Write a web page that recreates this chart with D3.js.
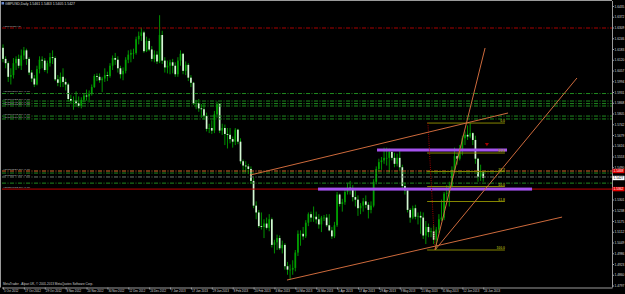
<!DOCTYPE html>
<html><head><meta charset="utf-8">
<script src="https://cdn.jsdelivr.net/npm/d3@7"></script>
<style>
body{margin:0;background:#000;overflow:hidden}
svg{display:block}
text{font-family:"Liberation Sans","DejaVu Sans",Arial,sans-serif}
</style>
</head><body>
<svg id="c" width="625" height="294"></svg>
<script>
// ---------- data ----------
const symbolTitle = "GBPUSD,Daily 1.5461 1.5463 1.5405 1.5427";
const footerText = "MetaTrader - Alpari UK, \u00a9 2001-2013 MetaQuotes Software Corp.";
const firstOpen = 1.6190;
const closes = [
1.6125,1.6100,1.6020,1.6030,1.6100,1.6125,1.6085,1.6145,1.6175,1.6125,
1.6045,1.6010,1.5975,1.6065,1.6120,1.6115,1.6060,1.6100,1.6135,1.6130,
1.6005,1.5985,1.6020,1.5990,1.5975,1.5890,1.5880,1.5880,1.5865,1.5850,
1.5885,1.5910,1.5905,1.5920,1.5960,1.6025,1.6020,1.6000,1.6010,1.6030,
1.6025,1.6085,1.6130,1.6120,1.6070,1.6035,1.6055,1.6120,1.6150,1.6160,
1.6160,1.6240,1.6260,1.6280,1.6170,1.6230,1.6180,1.6125,1.6150,1.6110,
1.6265,1.6115,1.6075,1.6085,1.6105,1.6085,1.6035,1.6115,1.6155,1.6055,
1.6090,1.6015,1.5985,1.5865,1.5865,1.5835,1.5830,1.5790,1.5715,1.5720,
1.5705,1.5800,1.5860,1.5705,1.5720,1.5685,1.5680,1.5655,1.5640,1.5710,
1.5640,1.5525,1.5500,1.5495,1.5480,1.5410,1.5265,1.5225,1.5145,1.5140,
1.5160,1.5135,1.5185,1.5035,1.5050,1.5075,1.5015,1.5035,1.4910,1.4890,
1.4890,1.4900,1.4990,1.5100,1.5100,1.5085,1.5165,1.5215,1.5195,1.5200,
1.5185,1.5155,1.5195,1.5195,1.5150,1.5120,1.5085,1.5150,1.5330,1.5275,
1.5285,1.5345,1.5370,1.5365,1.5315,1.5300,1.5250,1.5265,1.5290,1.5270,
1.5240,1.5265,1.5405,1.5480,1.5520,1.5530,1.5545,1.5545,1.5580,1.5545,
1.5510,1.5545,1.5490,1.5380,1.5355,1.5240,1.5195,1.5250,1.5200,1.5205,
1.5195,1.5090,1.5140,1.5110,1.5115,1.5065,1.5125,1.5185,1.5195,1.5335,
1.5340,1.5380,1.5475,1.5555,1.5540,1.5585,1.5660,1.5680,1.5670,1.5690,
1.5650,1.5540,1.5435,1.5461,1.5427];
const highs = [
1.6210,1.6140,1.6110,1.6070,1.6130,1.6140,1.6150,1.6180,1.6195,1.6185,
1.6135,1.6060,1.6030,1.6085,1.6140,1.6140,1.6130,1.6115,1.6160,1.6175,
1.6140,1.6030,1.6045,1.6070,1.6010,1.5985,1.5915,1.5905,1.5935,1.5905,
1.5900,1.5925,1.5945,1.5940,1.5975,1.6035,1.6040,1.6040,1.6020,1.6070,
1.6050,1.6100,1.6145,1.6160,1.6140,1.6085,1.6075,1.6135,1.6175,1.6180,
1.6185,1.6255,1.6285,1.6308,1.6290,1.6255,1.6245,1.6200,1.6175,1.6170,
1.6381,1.6290,1.6135,1.6115,1.6120,1.6125,1.6105,1.6135,1.6175,1.6160,
1.6110,1.6100,1.6030,1.5990,1.5885,1.5890,1.5860,1.5860,1.5810,1.5745,
1.5765,1.5820,1.5875,1.5865,1.5745,1.5740,1.5720,1.5720,1.5670,1.5720,
1.5715,1.5660,1.5535,1.5525,1.5510,1.5495,1.5430,1.5290,1.5240,1.5225,
1.5185,1.5195,1.5215,1.5195,1.5065,1.5095,1.5090,1.5060,1.5045,1.4935,
1.4920,1.4945,1.5005,1.5120,1.5120,1.5140,1.5180,1.5225,1.5230,1.5260,
1.5230,1.5215,1.5205,1.5210,1.5215,1.5215,1.5140,1.5170,1.5345,1.5335,
1.5305,1.5365,1.5395,1.5410,1.5385,1.5355,1.5325,1.5280,1.5310,1.5325,
1.5285,1.5290,1.5420,1.5495,1.5540,1.5550,1.5605,1.5605,1.5600,1.5590,
1.5575,1.5570,1.5590,1.5505,1.5400,1.5370,1.5250,1.5265,1.5270,1.5225,
1.5230,1.5225,1.5175,1.5160,1.5135,1.5150,1.5140,1.5215,1.5300,1.5345,
1.5385,1.5405,1.5495,1.5605,1.5575,1.5620,1.5675,1.5700,1.5735,1.5750,
1.5695,1.5675,1.5545,1.5505,1.5463];
const lows = [
1.6105,1.6070,1.5990,1.5975,1.6010,1.6060,1.6070,1.6060,1.6120,1.6090,
1.6030,1.5990,1.5960,1.5970,1.6040,1.6070,1.6050,1.6040,1.6080,1.6095,
1.5995,1.5965,1.5960,1.5960,1.5940,1.5875,1.5860,1.5827,1.5855,1.5840,
1.5835,1.5870,1.5880,1.5870,1.5910,1.5955,1.5995,1.5985,1.5930,1.5990,
1.5995,1.6015,1.6060,1.6090,1.6045,1.6010,1.6000,1.6040,1.6100,1.6105,
1.6125,1.6150,1.6210,1.6230,1.6160,1.6165,1.6170,1.6110,1.6105,1.6095,
1.6100,1.6095,1.6045,1.6040,1.6035,1.6040,1.6020,1.6020,1.6085,1.6035,
1.6030,1.5995,1.5960,1.5855,1.5830,1.5815,1.5780,1.5770,1.5700,1.5690,
1.5685,1.5690,1.5780,1.5690,1.5680,1.5620,1.5600,1.5630,1.5605,1.5620,
1.5625,1.5510,1.5460,1.5460,1.5450,1.5395,1.5250,1.5185,1.5135,1.5125,
1.5075,1.5125,1.5115,1.5020,1.4985,1.5005,1.5005,1.4985,1.4890,1.4860,
1.4831,1.4860,1.4880,1.4970,1.5030,1.5065,1.5075,1.5145,1.5170,1.5170,
1.5160,1.5130,1.5110,1.5175,1.5140,1.5115,1.5070,1.5075,1.5140,1.5260,
1.5230,1.5270,1.5330,1.5330,1.5290,1.5260,1.5205,1.5215,1.5230,1.5250,
1.5190,1.5220,1.5255,1.5390,1.5465,1.5475,1.5510,1.5500,1.5460,1.5530,
1.5490,1.5495,1.5470,1.5365,1.5330,1.5225,1.5165,1.5185,1.5185,1.5155,
1.5100,1.5070,1.5040,1.5080,1.5080,1.5040,1.5007,1.5105,1.5175,1.5180,
1.5285,1.5260,1.5370,1.5460,1.5505,1.5530,1.5560,1.5620,1.5650,1.5660,
1.5620,1.5510,1.5405,1.5410,1.5405];
const dateLabels = ["5 Oct 2012","17 Oct 2012","29 Oct 2012","8 Nov 2012","20 Nov 2012","30 Nov 2012",
"12 Dec 2012","24 Dec 2012","7 Jan 2013","17 Jan 2013","29 Jan 2013","8 Feb 2013","20 Feb 2013",
"4 Mar 2013","14 Mar 2013","26 Mar 2013","5 Apr 2013","17 Apr 2013","29 Apr 2013","9 May 2013",
"21 May 2013","31 May 2013","12 Jun 2013","24 Jun 2013"];
const barsPerLabel = 8;
const priceTicks = [1.6435,1.6372,1.6309,1.6246,1.6183,1.6120,1.6057,1.5994,1.5931,1.5868,1.5805,
1.5742,1.5679,1.5616,1.5553,1.5490,1.5427,1.5364,1.5301,1.5238,1.5175,1.5112,1.5049,1.4986,1.4923,1.4860,1.4797];
// horizontal order levels
const levelPrices = [1.6306,1.5922,1.5878,1.5863,1.5849,1.5790,1.5773,1.5468,1.5456,1.5433,1.5397,1.5362];
const levelKinds  = ["tp","order","order","order","order","order","order","tp2","order","bid","order","sl"];
const levelTexts  = ["#31100754 tp","#59509581 buy 1.00","#59509623 buy 1.00","#59509645 buy 1.00","#59509672 buy 1.00",
"#59509703 buy 1.00","#59509718 buy 1.00","#57370521 buy 1.00","","#57375114 buy 1.00","","#57379012 buy 1.00"];
// price boxes on the axis
const boxPrices = [1.5468,1.5427,1.5362];
const boxKinds = ["red","white","red"];
// trend lines
const trendStartIdx = [94.6,108.8,165.5,165.5];
const trendStartPx  = [1.5444,1.4829,1.5005,1.5005];
const trendEndIdx   = [193.5,214.2,184.7,219.9];
const trendEndPx    = [1.5808,1.5198,1.6189,1.6013];
// purple zones
const zoneStartIdx = [143.3,120.7];
const zoneEndIdx = [193.1,202.7];
const zonePrices = [1.5591,1.5362];
// fibonacci
const fibHigh = 1.5749, fibLow = 1.5005;
const fibStartIdx = 162.5, fibEndIdx = 192.3;
const fibHighIdx = 162.8, fibLowIdx = 165.5;
const fibLevels = [0,23.6,38.2,50.0,61.8,100.0];
const arrowIdx = 185.4, arrowPrice = 1.5626;

// ---------- setup ----------
const W = 625, H = 294;
const plotL = 2, plotR = 612, plotT = 1, plotB = 287.5;
const svg = d3.select("#c");
svg.append("rect").attr("width",W).attr("height",H).attr("fill","#000");

const x = d3.scaleLinear().domain([0, 233.33]).range([3, 612]);
const y = d3.scaleLinear().domain([1.4797, 1.6435]).range([285.5, 6]);

svg.append("clipPath").attr("id","clip").append("rect")
  .attr("x",plotL).attr("y",plotT).attr("width",plotR-plotL).attr("height",plotB-plotT);
const g = svg.append("g").attr("clip-path","url(#clip)");

const bars = closes.map((c,i)=>({i, o: i===0?firstOpen:closes[i-1], h: highs[i], l: lows[i], c}));

// candles
const bullCol = "#00a000", bearCol = "#d4f7d4", wickCol = "#00a000";
const cg = g.append("g");
cg.selectAll("line").data(bars).join("line")
  .attr("x1",d=>x(d.i)).attr("x2",d=>x(d.i))
  .attr("y1",d=>y(d.h)).attr("y2",d=>y(d.l))
  .attr("stroke",wickCol).attr("stroke-width",0.9);
cg.selectAll("rect").data(bars).join("rect")
  .attr("x",d=>x(d.i)-0.85).attr("width",1.7)
  .attr("y",d=>y(Math.max(d.o,d.c)))
  .attr("height",d=>Math.max(0.7, Math.abs(y(d.o)-y(d.c))))
  .attr("fill",d=>d.c>=d.o?bullCol:bearCol);

// horizontal levels
const levelStyle = {
  tp:{c:"#a80000",w:1,dash:"4,1.5,1,1.5"},
  order:{c:"#1f8a1f",w:1,dash:"4,1.5,1,1.5"},
  tp2:{c:"#d86a2a",w:1,dash:"4,1.5,1,1.5"},
  bid:{c:"#6a7a6a",w:1,dash:"4,1.5,1,1.5"},
  sl:{c:"#c00000",w:1,dash:null}
};
const lg = g.append("g");
levelPrices.forEach((p,k)=>{
  const s = levelStyle[levelKinds[k]];
  lg.append("line").attr("x1",plotL).attr("x2",plotR).attr("y1",y(p)).attr("y2",y(p))
    .attr("stroke",s.c).attr("stroke-width",s.w).attr("stroke-dasharray",s.dash);
  if (levelTexts[k]) {
    lg.append("text").attr("x",3).attr("y",y(p)-1.1).text(levelTexts[k])
      .attr("font-size",2.4).attr("fill","#b8b8b8")
      .attr("textLength",levelTexts[k].length*1.5).attr("lengthAdjust","spacingAndGlyphs");
  }
});

// purple zones
const zg = g.append("g");
zonePrices.forEach((p,k)=>{
  zg.append("rect").attr("x",x(zoneStartIdx[k])).attr("width",x(zoneEndIdx[k])-x(zoneStartIdx[k]))
    .attr("y",y(p)-1.5).attr("height",3).attr("fill","#a552ee");
});

// fibonacci
const fg = g.append("g");
const fibPrice = lv => fibHigh - (fibHigh-fibLow)*lv/100;
fibLevels.forEach(lv=>{
  const py = y(fibPrice(lv));
  fg.append("line").attr("x1",x(fibStartIdx)).attr("x2",x(fibEndIdx)).attr("y1",py).attr("y2",py)
    .attr("stroke","#858500").attr("stroke-width",1);
  fg.append("text").attr("x",x(fibEndIdx)).attr("y",py-0.8).attr("text-anchor","end")
    .attr("font-size",3.4).attr("font-weight","bold").attr("fill","#9a9a10").text(lv.toFixed(1));
});
fg.append("line").attr("x1",x(fibHighIdx)).attr("y1",y(fibHigh)).attr("x2",x(fibLowIdx)).attr("y2",y(fibLow))
  .attr("stroke","#a00000").attr("stroke-width",1).attr("stroke-dasharray","1,1.2");

// trend lines
const tg = g.append("g");
trendStartIdx.forEach((s,k)=>{
  tg.append("line").attr("x1",x(s)).attr("y1",y(trendStartPx[k]))
    .attr("x2",x(trendEndIdx[k])).attr("y2",y(trendEndPx[k]))
    .attr("stroke","#cd6a3c").attr("stroke-width",1);
});

// small arrow marker
g.append("path").attr("d",d3.symbol(d3.symbolTriangle,7)())
  .attr("transform",`translate(${x(arrowIdx)},${y(arrowPrice)}) rotate(180)`).attr("fill","#a00000");

// ---------- axes ----------
const axisCol = "#9a9a9a";
const hiddenTicks = priceTicks.filter(t => boxPrices.some(b => Math.abs(y(b)-y(t)) < 3.5));
const yAxis = d3.axisRight(y).tickValues(priceTicks.filter(t=>!hiddenTicks.includes(t)))
  .tickSize(2).tickPadding(0.5).tickFormat(d=>d.toFixed(4));
const ya = svg.append("g").attr("transform",`translate(${plotR},0)`).call(yAxis);
ya.select(".domain").attr("stroke",axisCol).attr("d",`M0.5,${plotT}V${plotB}`);
ya.selectAll(".tick line").attr("stroke",axisCol);
ya.selectAll(".tick text").attr("fill","#dcdcdc").attr("font-size",3.3)
  .attr("textLength",9.8).attr("lengthAdjust","spacingAndGlyphs");

const tickIdx = dateLabels.map((_,k)=>k*barsPerLabel);
const xAxis = d3.axisBottom(x).tickValues(tickIdx).tickSize(2).tickFormat((d,k)=>dateLabels[k]);
const xa = svg.append("g").attr("transform",`translate(0,${plotB})`).call(xAxis);
xa.select(".domain").attr("stroke",axisCol).attr("d",`M${plotL},0.5H${plotR+0.5}`);
xa.selectAll(".tick line").attr("stroke",axisCol);
xa.selectAll(".tick text").attr("fill","#dcdcdc").attr("font-size",3.3)
  .attr("text-anchor","start").attr("x",0.5).attr("y",2).attr("dy","0.71em")
  .each(function(d,k){ d3.select(this).attr("textLength",dateLabels[k].length*1.45).attr("lengthAdjust","spacingAndGlyphs"); });

// frame top / left
svg.append("line").attr("x1",0).attr("x2",plotR).attr("y1",0.5).attr("y2",0.5).attr("stroke",axisCol);
svg.append("line").attr("x1",0.5).attr("x2",0.5).attr("y1",0).attr("y2",plotB).attr("stroke",axisCol);

// price boxes
boxPrices.forEach((p,k)=>{
  const red = boxKinds[k]==="red";
  svg.append("rect").attr("x",plotR+0.5).attr("y",y(p)-2.2).attr("width",12).attr("height",4.4)
    .attr("fill",red?"#e00000":"#ffffff");
  svg.append("text").attr("x",plotR+1.5).attr("y",y(p)+1.2).text(p.toFixed(4))
    .attr("font-size",3.3).attr("fill",red?"#ffffff":"#000000")
    .attr("textLength",9.8).attr("lengthAdjust","spacingAndGlyphs");
});

// header & footer
svg.append("rect").attr("x",1.5).attr("y",2).attr("width",2.5).attr("height",2.5).attr("fill","#6a8ad0");
svg.append("text").attr("x",5).attr("y",5.3).text(symbolTitle).attr("font-size",3.8)
  .attr("fill","#dcdcdc").attr("textLength",70).attr("lengthAdjust","spacingAndGlyphs");
svg.append("text").attr("x",3).attr("y",285.3).text(footerText).attr("font-size",3.2)
  .attr("fill","#cfcfcf").attr("textLength",90).attr("lengthAdjust","spacingAndGlyphs");
</script>
</body></html>
